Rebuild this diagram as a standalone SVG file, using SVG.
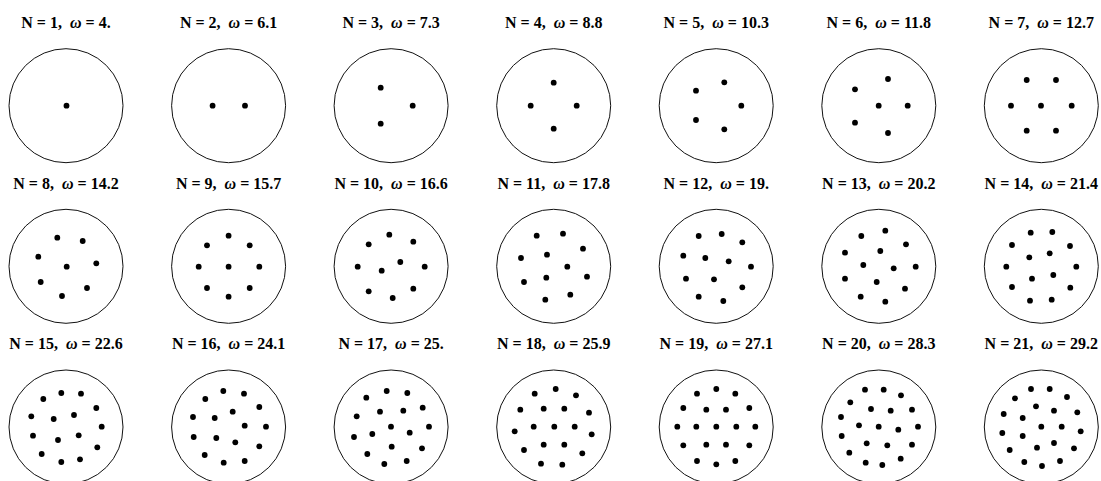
<svg xmlns="http://www.w3.org/2000/svg" width="1101" height="481" viewBox="0 0 1101 481">
<style>
.t{font-family:"Liberation Serif","Times New Roman",serif;font-weight:bold;font-size:16px;fill:#000;text-anchor:middle;white-space:pre}
.w{font-style:italic}
.c{fill:none;stroke:#111;stroke-width:1}
.d{fill:#000}
</style>
<rect width="1101" height="481" fill="#fff"/>
<defs><circle id="p" r="2.9" class="d"/></defs>

<g id="n1" transform="translate(66,105.7)">
<text class="t" y="-77.7">N = 1,  <tspan class="w">ω</tspan> = 4.</text>
<circle class="c" r="57"/>
<use href="#p" x="0.5" y="0"/>
</g>
<g id="n2" transform="translate(228.6,105.7)">
<text class="t" y="-77.7">N = 2,  <tspan class="w">ω</tspan> = 6.1</text>
<circle class="c" r="57"/>
<use href="#p" x="-16" y="0"/><use href="#p" x="16.4" y="0"/>
</g>
<g id="n3" transform="translate(391.1,105.7)">
<text class="t" y="-77.7">N = 3,  <tspan class="w">ω</tspan> = 7.3</text>
<circle class="c" r="57"/>
<use href="#p" x="-10.4" y="-18"/><use href="#p" x="21.6" y="0"/><use href="#p" x="-10.4" y="18"/>
</g>
<g id="n4" transform="translate(553.7,105.7)">
<text class="t" y="-77.7">N = 4,  <tspan class="w">ω</tspan> = 8.8</text>
<circle class="c" r="57"/>
<use href="#p" x="0" y="-23"/><use href="#p" x="-23" y="0"/><use href="#p" x="23" y="0"/><use href="#p" x="0" y="23"/>
</g>
<g id="n5" transform="translate(716.2,105.7)">
<text class="t" y="-77.7">N = 5,  <tspan class="w">ω</tspan> = 10.3</text>
<circle class="c" r="57"/>
<use href="#p" x="8.1" y="-23.4"/><use href="#p" x="-20.2" y="-15"/><use href="#p" x="25.1" y="0"/><use href="#p" x="-20.2" y="14.3"/><use href="#p" x="8.1" y="23.6"/>
</g>
<g id="n6" transform="translate(878.8,105.7)">
<text class="t" y="-77.7">N = 6,  <tspan class="w">ω</tspan> = 11.8</text>
<circle class="c" r="57"/>
<use href="#p" x="9.2" y="-26.7"/><use href="#p" x="-23.8" y="-16.4"/><use href="#p" x="-0.1" y="0"/><use href="#p" x="28.9" y="0"/><use href="#p" x="-23.8" y="17"/><use href="#p" x="9.2" y="27.3"/>
</g>
<g id="n7" transform="translate(1041.3,105.7)">
<text class="t" y="-77.7">N = 7,  <tspan class="w">ω</tspan> = 12.7</text>
<circle class="c" r="57"/>
<use href="#p" x="-14.6" y="-25.7"/><use href="#p" x="14.7" y="-25.7"/><use href="#p" x="-30.3" y="0"/><use href="#p" x="-0.3" y="0"/><use href="#p" x="30.4" y="0"/><use href="#p" x="-14.6" y="25"/><use href="#p" x="14.7" y="25"/>
</g>

<g id="n8" transform="translate(66,266.3)">
<text class="t" y="-77.7">N = 8,  <tspan class="w">ω</tspan> = 14.2</text>
<circle class="c" r="57"/>
<use href="#p" x="-8.7" y="-28.6"/><use href="#p" x="16.7" y="-25.3"/><use href="#p" x="-27.7" y="-9.6"/><use href="#p" x="0.7" y="0.4"/><use href="#p" x="30.3" y="-3"/><use href="#p" x="-25.3" y="15.7"/><use href="#p" x="21" y="21.7"/><use href="#p" x="-4" y="29.7"/>
</g>
<g id="n9" transform="translate(228.6,266.3)">
<text class="t" y="-77.7">N = 9,  <tspan class="w">ω</tspan> = 15.7</text>
<circle class="c" r="57"/>
<use href="#p" x="0" y="-30.6"/><use href="#p" x="-21.6" y="-21"/><use href="#p" x="21.1" y="-21"/><use href="#p" x="-29.9" y="0.4"/><use href="#p" x="0" y="0.4"/><use href="#p" x="30.7" y="0.4"/><use href="#p" x="-21.6" y="21.7"/><use href="#p" x="21.1" y="21.7"/><use href="#p" x="0" y="30.4"/>
</g>
<g id="n10" transform="translate(391.1,266.3)">
<text class="t" y="-77.7">N = 10,  <tspan class="w">ω</tspan> = 16.6</text>
<circle class="c" r="57"/>
<use href="#p" x="-1.8" y="-31.6"/><use href="#p" x="-22.4" y="-22"/><use href="#p" x="22.2" y="-24.6"/><use href="#p" x="9.2" y="-4.3"/><use href="#p" x="-33.4" y="0.4"/><use href="#p" x="-9.4" y="4.4"/><use href="#p" x="33.6" y="0.4"/><use href="#p" x="-22.4" y="25"/><use href="#p" x="22.2" y="22.4"/><use href="#p" x="1.6" y="31.7"/>
</g>
<g id="n11" transform="translate(553.7,266.3)">
<text class="t" y="-77.7">N = 11,  <tspan class="w">ω</tspan> = 17.8</text>
<circle class="c" r="57"/>
<use href="#p" x="-17" y="-30.6"/><use href="#p" x="9.3" y="-32.6"/><use href="#p" x="29.3" y="-17.6"/><use href="#p" x="-32.7" y="-8.3"/><use href="#p" x="-6.7" y="-11.6"/><use href="#p" x="13.6" y="0.4"/><use href="#p" x="-29.7" y="15.7"/><use href="#p" x="-7.4" y="11.4"/><use href="#p" x="33.3" y="10.4"/><use href="#p" x="-8.4" y="33.4"/><use href="#p" x="16.6" y="28.4"/>
</g>
<g id="n12" transform="translate(716.2,266.3)">
<text class="t" y="-77.7">N = 12,  <tspan class="w">ω</tspan> = 19.</text>
<circle class="c" r="57"/>
<use href="#p" x="-17.5" y="-30.3"/><use href="#p" x="5.5" y="-32.3"/><use href="#p" x="26.1" y="-24"/><use href="#p" x="-32.9" y="-10.6"/><use href="#p" x="-10.9" y="-8.3"/><use href="#p" x="12.5" y="-5"/><use href="#p" x="34.8" y="0.4"/><use href="#p" x="-30.2" y="12.4"/><use href="#p" x="-2.2" y="13"/><use href="#p" x="26.1" y="21"/><use href="#p" x="-17.5" y="30.4"/><use href="#p" x="7.1" y="34.7"/>
</g>
<g id="n13" transform="translate(878.8,266.3)">
<text class="t" y="-77.7">N = 13,  <tspan class="w">ω</tspan> = 20.2</text>
<circle class="c" r="57"/>
<use href="#p" x="-17.5" y="-30.3"/><use href="#p" x="6.5" y="-35.6"/><use href="#p" x="27.2" y="-22"/><use href="#p" x="-33.8" y="-13.6"/><use href="#p" x="1.5" y="-15.3"/><use href="#p" x="-15.5" y="-1.3"/><use href="#p" x="14.9" y="2"/><use href="#p" x="36.9" y="0.4"/><use href="#p" x="-33.8" y="12.4"/><use href="#p" x="-2.1" y="15.7"/><use href="#p" x="26.2" y="22.4"/><use href="#p" x="-18.1" y="30.4"/><use href="#p" x="6.5" y="35.4"/>
</g>
<g id="n14" transform="translate(1041.3,266.3)">
<text class="t" y="-77.7">N = 14,  <tspan class="w">ω</tspan> = 21.4</text>
<circle class="c" r="57"/>
<use href="#p" x="-10.6" y="-33.6"/><use href="#p" x="11" y="-34.3"/><use href="#p" x="-29.3" y="-21.3"/><use href="#p" x="28.7" y="-20.3"/><use href="#p" x="-12" y="-9"/><use href="#p" x="8.4" y="-13"/><use href="#p" x="-35" y="0.4"/><use href="#p" x="35" y="0.4"/><use href="#p" x="-9.3" y="12.4"/><use href="#p" x="12" y="8.7"/><use href="#p" x="-29.3" y="20.7"/><use href="#p" x="29" y="21.4"/><use href="#p" x="-11.3" y="34.4"/><use href="#p" x="10.4" y="33.4"/>
</g>

<g id="n15" transform="translate(66,427)">
<text class="t" y="-77.7">N = 15,  <tspan class="w">ω</tspan> = 22.6</text>
<circle class="c" r="57"/>
<use href="#p" x="-4.7" y="-34"/><use href="#p" x="15" y="-33.3"/><use href="#p" x="-22.7" y="-28"/><use href="#p" x="30.3" y="-19"/><use href="#p" x="-34.7" y="-10.7"/><use href="#p" x="-12.3" y="-8"/><use href="#p" x="8" y="-12"/><use href="#p" x="35.7" y="-0.3"/><use href="#p" x="-33" y="8.7"/><use href="#p" x="-8" y="13"/><use href="#p" x="12.7" y="8.3"/><use href="#p" x="31.3" y="20.3"/><use href="#p" x="-24.3" y="27"/><use href="#p" x="-4.7" y="35"/><use href="#p" x="14" y="32.3"/>
</g>
<g id="n16" transform="translate(228.6,427)">
<text class="t" y="-77.7">N = 16,  <tspan class="w">ω</tspan> = 24.1</text>
<circle class="c" r="57"/>
<use href="#p" x="-5.3" y="-36"/><use href="#p" x="15.4" y="-33.3"/><use href="#p" x="-23.3" y="-28"/><use href="#p" x="30.7" y="-20"/><use href="#p" x="4.1" y="-15.3"/><use href="#p" x="-35.6" y="-10"/><use href="#p" x="-13.9" y="-9"/><use href="#p" x="16.1" y="-1.3"/><use href="#p" x="37.4" y="-0.3"/><use href="#p" x="-34.9" y="10"/><use href="#p" x="-12.3" y="11"/><use href="#p" x="6.7" y="15.3"/><use href="#p" x="30.7" y="19.3"/><use href="#p" x="-23.9" y="28"/><use href="#p" x="-4.9" y="35.7"/><use href="#p" x="16.1" y="34"/>
</g>
<g id="n17" transform="translate(391.1,427)">
<text class="t" y="-77.7">N = 17,  <tspan class="w">ω</tspan> = 25.</text>
<circle class="c" r="57"/>
<use href="#p" x="-4.4" y="-36"/><use href="#p" x="16.2" y="-34"/><use href="#p" x="-24.8" y="-29.3"/><use href="#p" x="31.6" y="-19.3"/><use href="#p" x="-11.1" y="-15.3"/><use href="#p" x="12.2" y="-16.3"/><use href="#p" x="-34.4" y="-10.7"/><use href="#p" x="-0.1" y="-0.3"/><use href="#p" x="37.9" y="-0.3"/><use href="#p" x="-18.8" y="7"/><use href="#p" x="18.6" y="5.7"/><use href="#p" x="-37.1" y="10"/><use href="#p" x="0.6" y="19.7"/><use href="#p" x="30.9" y="21.3"/><use href="#p" x="-23.8" y="27"/><use href="#p" x="-6.8" y="37"/><use href="#p" x="15.6" y="34"/>
</g>
<g id="n18" transform="translate(553.7,427)">
<text class="t" y="-77.7">N = 18,  <tspan class="w">ω</tspan> = 25.9</text>
<circle class="c" r="57"/>
<use href="#p" x="2" y="-38"/><use href="#p" x="-19" y="-33.3"/><use href="#p" x="22.3" y="-31.7"/><use href="#p" x="-33.4" y="-17.3"/><use href="#p" x="-10" y="-18.3"/><use href="#p" x="10.6" y="-18.3"/><use href="#p" x="35.3" y="-14.3"/><use href="#p" x="-39" y="4.3"/><use href="#p" x="-20" y="-0.3"/><use href="#p" x="0.6" y="-0.3"/><use href="#p" x="21" y="-0.3"/><use href="#p" x="38" y="7.3"/><use href="#p" x="-10" y="17.7"/><use href="#p" x="10.6" y="17.7"/><use href="#p" x="-29.7" y="23"/><use href="#p" x="28.6" y="26.3"/><use href="#p" x="-12.7" y="36.7"/><use href="#p" x="8.6" y="37.7"/>
</g>
<g id="n19" transform="translate(716.2,427)">
<text class="t" y="-77.7">N = 19,  <tspan class="w">ω</tspan> = 27.1</text>
<circle class="c" r="57"/>
<use href="#p" x="0.1" y="-38"/><use href="#p" x="-19.2" y="-33.3"/><use href="#p" x="19.1" y="-33.3"/><use href="#p" x="-32.9" y="-19"/><use href="#p" x="-9.9" y="-17.3"/><use href="#p" x="9.8" y="-17.3"/><use href="#p" x="33.1" y="-19"/><use href="#p" x="-38.9" y="-0.3"/><use href="#p" x="-19.9" y="-0.3"/><use href="#p" x="0.1" y="-0.3"/><use href="#p" x="20.1" y="-0.3"/><use href="#p" x="39.1" y="-0.3"/><use href="#p" x="-32.9" y="18.3"/><use href="#p" x="-9.9" y="17.7"/><use href="#p" x="9.8" y="17.7"/><use href="#p" x="33.1" y="18.3"/><use href="#p" x="-19.2" y="34"/><use href="#p" x="0.1" y="37.3"/><use href="#p" x="19.1" y="34"/>
</g>
<g id="n20" transform="translate(878.8,427)">
<text class="t" y="-77.7">N = 20,  <tspan class="w">ω</tspan> = 28.3</text>
<circle class="c" r="57"/>
<use href="#p" x="-13.8" y="-37.3"/><use href="#p" x="4.9" y="-37.3"/><use href="#p" x="22.2" y="-31.7"/><use href="#p" x="-28.5" y="-24.7"/><use href="#p" x="-7.8" y="-18"/><use href="#p" x="11.9" y="-16.3"/><use href="#p" x="33.2" y="-17.3"/><use href="#p" x="-37.8" y="-10"/><use href="#p" x="-19.8" y="-1.7"/><use href="#p" x="-0.1" y="-0.3"/><use href="#p" x="19.5" y="2.7"/><use href="#p" x="39.2" y="-0.3"/><use href="#p" x="-37.1" y="9"/><use href="#p" x="-12.1" y="16.3"/><use href="#p" x="8.5" y="18.3"/><use href="#p" x="33.2" y="17.7"/><use href="#p" x="-29.5" y="25.7"/><use href="#p" x="21.9" y="31.7"/><use href="#p" x="-13.1" y="35.7"/><use href="#p" x="3.5" y="38"/>
</g>
<g id="n21" transform="translate(1041.3,427)">
<text class="t" y="-77.7">N = 21,  <tspan class="w">ω</tspan> = 29.2</text>
<circle class="c" r="57"/>
<use href="#p" x="-10.3" y="-38"/><use href="#p" x="8.4" y="-38"/><use href="#p" x="-26.3" y="-28.7"/><use href="#p" x="25.7" y="-30"/><use href="#p" x="-5.3" y="-20.7"/><use href="#p" x="12.7" y="-16.3"/><use href="#p" x="-37.6" y="-13"/><use href="#p" x="-18.6" y="-9"/><use href="#p" x="36" y="-14.7"/><use href="#p" x="0" y="-0.3"/><use href="#p" x="20.4" y="-0.3"/><use href="#p" x="-39" y="6"/><use href="#p" x="-18.6" y="9"/><use href="#p" x="39.4" y="4.3"/><use href="#p" x="-4.3" y="20.7"/><use href="#p" x="12.7" y="16"/><use href="#p" x="-31.6" y="23"/><use href="#p" x="32.7" y="21.3"/><use href="#p" x="-17" y="35"/><use href="#p" x="0.7" y="39"/><use href="#p" x="18.7" y="34"/>
</g>
</svg>
